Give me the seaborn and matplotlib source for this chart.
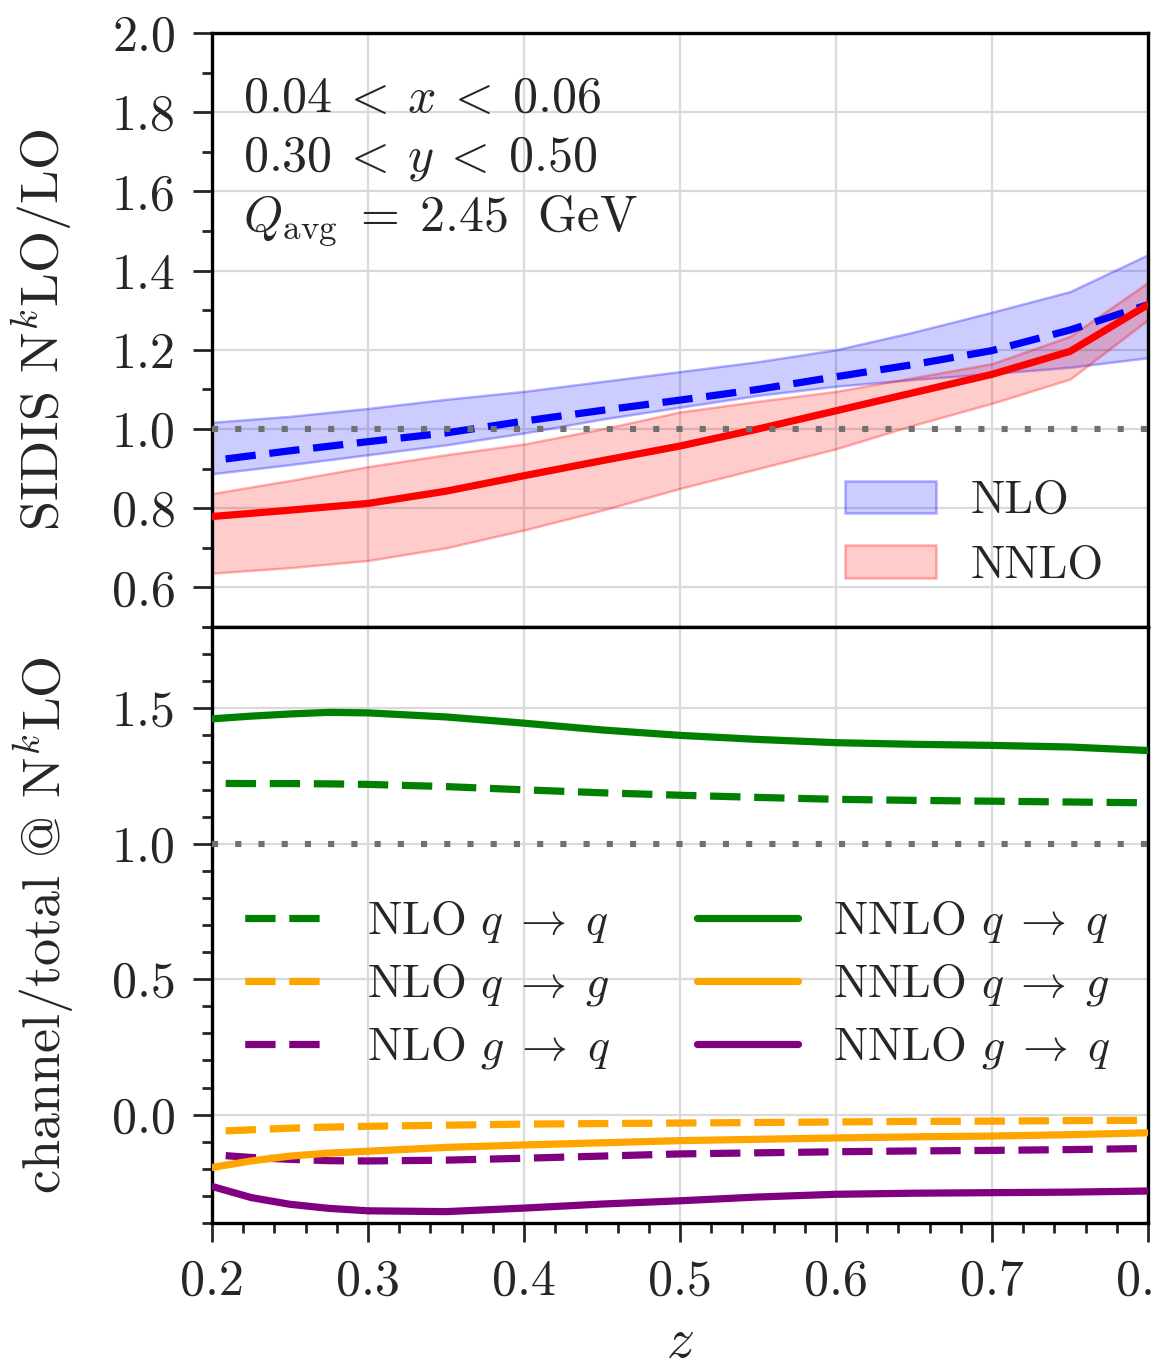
import numpy as np
import pandas as pd
import matplotlib
matplotlib.use("Agg")
import matplotlib.pyplot as plt
import seaborn as sns
from matplotlib.ticker import MultipleLocator, FormatStrFormatter

# ---------------- data ----------------
z_top = [0.20, 0.25, 0.30, 0.35, 0.40, 0.45, 0.50, 0.55, 0.60, 0.65, 0.70, 0.75, 0.80]
nlo_central = [0.920, 0.945, 0.968, 0.990, 1.020, 1.047, 1.073, 1.100, 1.132, 1.163, 1.198, 1.250, 1.314]
nlo_upper = [1.017, 1.032, 1.052, 1.075, 1.095, 1.120, 1.145, 1.170, 1.200, 1.245, 1.295, 1.347, 1.440]
nlo_lower = [0.887, 0.910, 0.935, 0.960, 0.990, 1.025, 1.055, 1.085, 1.108, 1.125, 1.140, 1.156, 1.180]
nnlo_central = [0.779, 0.795, 0.812, 0.843, 0.882, 0.920, 0.957, 1.000, 1.046, 1.092, 1.138, 1.196, 1.314]
nnlo_upper = [0.837, 0.870, 0.905, 0.935, 0.962, 1.000, 1.043, 1.070, 1.095, 1.130, 1.165, 1.234, 1.370]
nnlo_lower = [0.636, 0.650, 0.668, 0.700, 0.745, 0.795, 0.850, 0.900, 0.950, 1.010, 1.065, 1.126, 1.276]

z_bot = [0.20, 0.225, 0.25, 0.275, 0.30, 0.35, 0.40, 0.45, 0.50, 0.55, 0.60, 0.65, 0.70, 0.75, 0.80]
nlo_qq = [1.223, 1.222, 1.222, 1.221, 1.219, 1.211, 1.199, 1.188, 1.179, 1.171, 1.164, 1.160, 1.157, 1.154, 1.151]
nlo_qg = [-0.062, -0.056, -0.050, -0.046, -0.043, -0.039, -0.035, -0.033, -0.031, -0.029, -0.027, -0.025, -0.024, -0.022, -0.021]
nlo_gq = [-0.148, -0.158, -0.165, -0.170, -0.171, -0.168, -0.161, -0.153, -0.145, -0.141, -0.137, -0.134, -0.132, -0.129, -0.125]
nnlo_qq = [1.461, 1.471, 1.479, 1.485, 1.483, 1.468, 1.445, 1.420, 1.400, 1.385, 1.373, 1.367, 1.363, 1.357, 1.344]
nnlo_qg = [-0.195, -0.171, -0.153, -0.142, -0.135, -0.121, -0.112, -0.104, -0.096, -0.091, -0.086, -0.082, -0.079, -0.074, -0.067]
nnlo_gq = [-0.265, -0.306, -0.331, -0.346, -0.355, -0.358, -0.345, -0.330, -0.318, -0.304, -0.294, -0.290, -0.288, -0.286, -0.282]

channel_labels = [r"NLO $q\;\rightarrow\;q$", r"NLO $q\;\rightarrow\;g$", r"NLO $g\;\rightarrow\;q$",
                  r"NNLO $q\;\rightarrow\;q$", r"NNLO $q\;\rightarrow\;g$", r"NNLO $g\;\rightarrow\;q$"]
channel_colors = ["green", "orange", "purple"]

# ---------------- style ----------------
sns.set_theme(style="ticks")
plt.rcParams.update({
    "font.family": "serif",
    "font.serif": ["cmr10", "DejaVu Serif"],
    "mathtext.fontset": "cm",
    "axes.formatter.use_mathtext": True,
    "axes.unicode_minus": False,
    "axes.linewidth": 2.4,
    "axes.edgecolor": "black",
})

W, H = 1153, 1371
fig = plt.figure(figsize=(W / 100, H / 100), dpi=100)
left = 212 / W
width = (1148 - 212) / W
ax1 = fig.add_axes([left, 1 - 627 / H, width, (627 - 33) / H])
ax2 = fig.add_axes([left, 1 - 1223 / H, width, (1223 - 627) / H], sharex=ax1)

LW = 5.2
dash_off = (4.2, (4.2, 1.9))
dotted = (0, (1, 2.8))
gridc = "#dadada"

# ---------------- top panel ----------------
ax1.fill_between(z_top, nlo_lower, nlo_upper, facecolor=(0, 0, 1, 0.2),
                 edgecolor=(0, 0, 1, 0.3), lw=1.8, label="NLO", zorder=2)
ax1.fill_between(z_top, nnlo_lower, nnlo_upper, facecolor=(1, 0, 0, 0.2),
                 edgecolor=(1, 0, 0, 0.3), lw=1.8, label="NNLO", zorder=2)
sns.lineplot(x=z_top, y=nlo_central, ax=ax1, color="blue", lw=LW, linestyle=dash_off,
             errorbar=None, legend=False, zorder=3)
sns.lineplot(x=z_top, y=nnlo_central, ax=ax1, color="red", lw=LW,
             errorbar=None, legend=False, zorder=3)
ax1.axhline(1.0, color="#707070", lw=4.4, linestyle=dotted, zorder=4)

ax1.set_xlim(0.2, 0.8)
ax1.set_ylim(0.5, 2.0)
ax1.yaxis.set_major_locator(MultipleLocator(0.2))
ax1.yaxis.set_minor_locator(MultipleLocator(0.1))
ax1.yaxis.set_major_formatter(FormatStrFormatter("%.1f"))
ax1.xaxis.set_major_locator(MultipleLocator(0.1))
ax1.grid(True, which="major", color=gridc, lw=1.6, zorder=0)
ax1.set_axisbelow(True)
ax1.tick_params(axis="x", which="both", length=0, labelbottom=False)
ax1.tick_params(axis="y", which="major", length=14, width=2, labelsize=36, pad=12, direction="out")
ax1.tick_params(axis="y", which="minor", length=7, width=2, direction="out")
ax1.set_ylabel(r"SIDIS N$^k$LO/LO", fontsize=39)
ax1.yaxis.set_label_coords(-0.146, 0.5)

ax1.text(0.033, 0.867, r"$0.04\:<\:x\:<\:0.06$", transform=ax1.transAxes, fontsize=36, va="baseline")
ax1.text(0.033, 0.768, r"$0.30\:<\:y\:<\:0.50$", transform=ax1.transAxes, fontsize=36, va="baseline")
ax1.text(0.033, 0.667, r"$Q_{\rm avg}\;=\;2.45\;$ GeV", transform=ax1.transAxes, fontsize=36, va="baseline")

ax1.legend(loc="lower right", bbox_to_anchor=(0.953, 0.068), frameon=False, fontsize=33,
           handlelength=2.0, handleheight=0.72, handletextpad=0.76, labelspacing=0.5,
           borderpad=0, borderaxespad=0)

# ---------------- bottom panel ----------------
nlo_series = [nlo_qq, nlo_qg, nlo_gq]
nnlo_series = [nnlo_qq, nnlo_qg, nnlo_gq]
for vals, col, lab in zip(nlo_series, channel_colors, channel_labels[:3]):
    sns.lineplot(x=z_bot, y=vals, ax=ax2, color=col, lw=LW, linestyle=dash_off,
                 errorbar=None, label=lab, zorder=3)
for vals, col, lab in zip(nnlo_series, channel_colors, channel_labels[3:]):
    sns.lineplot(x=z_bot, y=vals, ax=ax2, color=col, lw=LW,
                 errorbar=None, label=lab, zorder=3)
ax2.axhline(1.0, color="#707070", lw=4.4, linestyle=dotted, zorder=4)

ax2.set_ylim(-0.4, 1.8)
ax2.yaxis.set_major_locator(MultipleLocator(0.5))
ax2.yaxis.set_minor_locator(MultipleLocator(0.1))
ax2.yaxis.set_major_formatter(FormatStrFormatter("%.1f"))
ax2.xaxis.set_major_locator(MultipleLocator(0.1))
ax2.xaxis.set_minor_locator(MultipleLocator(0.02))
ax2.xaxis.set_major_formatter(FormatStrFormatter("%.1f"))
ax2.grid(True, which="major", color=gridc, lw=1.6, zorder=0)
ax2.set_axisbelow(True)
ax2.tick_params(axis="both", which="major", length=14, width=2, labelsize=36, pad=12, direction="out")
ax2.tick_params(axis="both", which="minor", length=7, width=2, direction="out")
ax2.set_ylabel(r"channel/total @ N$^k$LO", fontsize=39)
ax2.yaxis.set_label_coords(-0.144, 0.5)
ax2.set_xlabel(r"$z$", fontsize=40)
ax2.xaxis.set_label_coords(0.5, -0.16)

handles, labels = ax2.get_legend_handles_labels()
ax2.legend(handles, labels, ncol=2, loc="center", bbox_to_anchor=(0.49, 0.40), frameon=False,
           fontsize=33, handlelength=2.2, handletextpad=0.76, columnspacing=1.9,
           labelspacing=0.35, borderpad=0)

for ax in (ax1, ax2):
    for s in ax.spines.values():
        s.set_linewidth(2.4)

fig.savefig("out.png", dpi=100)
